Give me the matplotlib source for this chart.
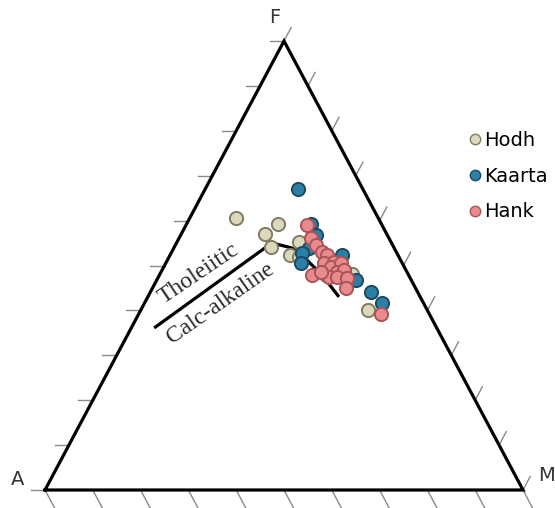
import numpy as np
import matplotlib.pyplot as plt
from matplotlib.lines import Line2D

# AFM compositions in percent (A = 100 - F - M)
hodh_F = [60.6, 59.2, 57.0, 54.1, 52.3, 55.2, 47.9, 48.1, 40.1, 51.9]
hodh_M = [9.6, 19.1, 17.5, 20.2, 25.1, 25.5, 34.9, 40.2, 47.6, 27.2]

kaarta_F = [67.0, 59.2, 56.8, 53.9, 52.8, 50.6, 52.3, 46.8, 44.1, 41.6]
kaarta_M = [19.5, 26.0, 28.3, 28.3, 27.4, 28.3, 36.0, 41.7, 46.2, 49.7]

hank_F = [59.0, 56.1, 54.6, 53.0, 52.3, 50.6, 50.8, 49.7, 50.6, 48.6,
          49.0, 47.9, 47.4, 47.4, 47.2, 45.0, 48.6, 39.2]
hank_M = [25.3, 27.6, 29.4, 31.4, 32.8, 33.1, 35.1, 35.0, 36.7, 36.8,
          38.1, 31.9, 35.7, 37.4, 39.6, 40.5, 33.5, 50.7]

# tholeiitic / calc-alkaline boundary
bound_F = [36.1, 54.1, 54.8, 53.9, 51.2, 47.9, 43.0]
bound_M = [4.8, 19.2, 20.9, 24.7, 29.2, 34.0, 40.0]

H = np.sqrt(3) / 2


def tern(F, M):
    F = np.asarray(F) / 100.0
    M = np.asarray(M) / 100.0
    return M + F / 2, F * H


fig = plt.figure(figsize=(5.55, 5.08), dpi=100)
ax = fig.add_axes([45 / 555, 18 / 508, 478 / 555, 449 / 508])
ax.set_xlim(0, 1)
ax.set_ylim(0, H)
ax.axis("off")

# triangle
ax.plot([0, 1, 0.5, 0], [0, 0, H, 0], color="black", lw=2.3,
        solid_joinstyle="miter", clip_on=False, zorder=2)

# ticks every 10 %
tick_kw = dict(color="#8a8a8a", lw=1.0, clip_on=False, zorder=1)
for t in np.linspace(0, 1, 11):
    # bottom edge (A-M), pointing down-right
    ax.plot([t, t + 0.04 * 0.5], [0, -0.04 * H], **tick_kw)
    # left edge (A-F), pointing left
    x0, y0 = t / 2, t * H
    ax.plot([x0, x0 - 0.03], [y0, y0], **tick_kw)
    # right edge (M-F), pointing up-right
    x0, y0 = 1 - t / 2, t * H
    ax.plot([x0, x0 + 0.03 * 0.5], [y0, y0 + 0.03 * H], **tick_kw)

lab_kw = dict(fontsize=14, color="#333333", ha="center", va="center")
ax.text(0.48, H + 0.045, "F", **lab_kw)
ax.text(-0.057, 0.02, "A", **lab_kw)
ax.text(1.05, 0.028, "M", **lab_kw)

bx, by = tern(bound_F, bound_M)
ax.plot(bx, by, color="black", lw=2.3, solid_capstyle="butt", zorder=3)

ax.text(0.322, 0.418, "Tholeiitic", family="Liberation Serif", fontsize=17,
        color="#2a2a2a", rotation=34, ha="center", va="center",
        rotation_mode="anchor")
ax.text(0.368, 0.360, "Calc-alkaline", family="Liberation Serif", fontsize=17,
        color="#2a2a2a", rotation=35, ha="center", va="center",
        rotation_mode="anchor")

groups = [
    ("Hodh", hodh_F, hodh_M, "#dcd8bd", "#7e7c62"),
    ("Kaarta", kaarta_F, kaarta_M, "#2b7fa6", "#1c4a62"),
    ("Hank", hank_F, hank_M, "#e98b8d", "#a95458"),
]
handles = []
for name, F, M, fc, ec in groups:
    x, y = tern(F, M)
    ax.plot(x, y, "o", ms=9.5, mfc=fc, mec=ec, mew=1.4, ls="none", zorder=4)
    handles.append(Line2D([], [], marker="o", ls="none", ms=7.5, mfc=fc,
                          mec=ec, mew=1.0, label=name))

fig.legend(handles=handles, loc="upper left", bbox_to_anchor=(465 / 555, 1 - 131 / 508),
           frameon=False, fontsize=14, handletextpad=0.0, handlelength=1.0,
           labelspacing=0.86, borderaxespad=0, borderpad=0)

fig.savefig("out.png", dpi=100)
